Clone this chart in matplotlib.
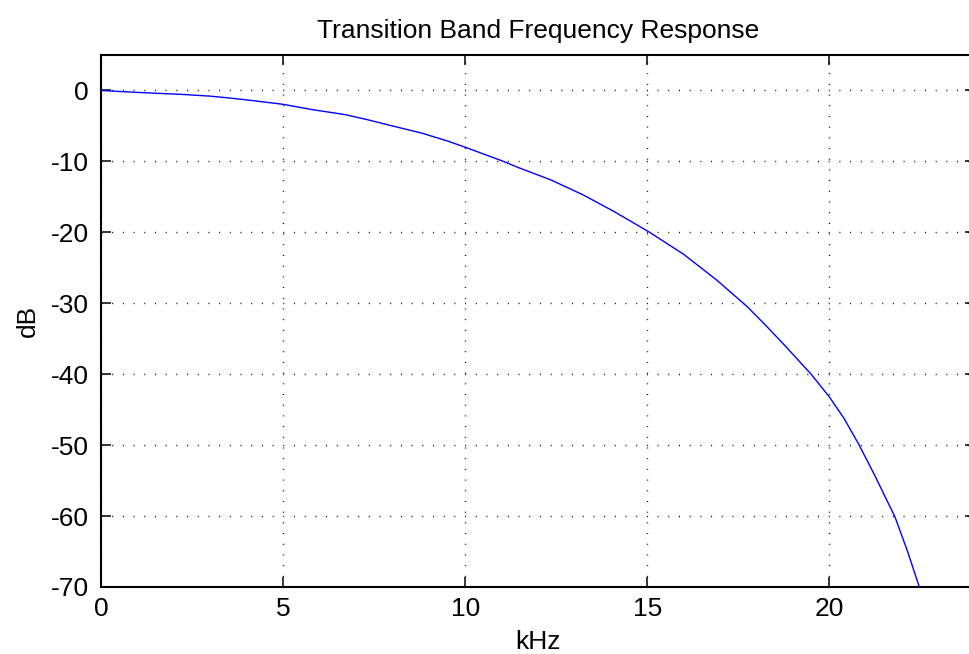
import numpy as np
import matplotlib
matplotlib.use("Agg")
import matplotlib.pyplot as plt

# values
freq_khz = [0, 0.9, 2.2, 3.0, 3.6, 4.2, 5.0, 5.8, 6.7, 7.3, 8.0, 8.8, 9.5, 10.0,
            11.0, 11.5, 12.35, 13.25, 14.1, 15.05, 16.0, 16.9, 17.75, 18.25, 18.75,
            19.5, 20.0, 20.4, 20.8, 21.25, 21.8, 22.15, 22.47]
mag_db = [0, -0.25, -0.55, -0.8, -1.1, -1.45, -1.95, -2.7, -3.4, -4.1, -5.0, -6.0,
          -7.1, -8.0, -9.9, -10.95, -12.6, -14.75, -17.1, -19.95, -23.1, -26.7,
          -30.5, -33.1, -35.8, -40.0, -43.2, -46.2, -49.8, -54.3, -60.1, -65.0, -70.0]
x_ticks = [0, 5, 10, 15, 20]
y_ticks = [0, -10, -20, -30, -40, -50, -60, -70]

plt.rcParams["font.family"] = ["Liberation Sans", "DejaVu Sans"]
plt.rcParams["axes.unicode_minus"] = False

W, H = 969, 654
fig = plt.figure(figsize=(W / 100, H / 100), dpi=100)
ax = fig.add_axes([101 / W, 1 - 587 / H, 874 / W, 532 / H])

ax.plot(freq_khz, mag_db, color=(0, 0, 1), linewidth=1.0, zorder=3)

ax.set_xlim(0, 24)
ax.set_ylim(-70, 5)
ax.set_xticks(x_ticks)
ax.set_yticks(y_ticks)
ax.tick_params(direction="in", length=7.2, width=1.1, top=True, right=True,
               colors="black", labelsize=19)
ax.tick_params(axis="x", pad=7.5)
ax.tick_params(axis="y", pad=8.6)
for s in ax.spines.values():
    s.set_linewidth(1.5)
ax.grid(True, color="black", linewidth=1.0, linestyle=(0, (0.7, 7)))

ax.set_title("Transition Band Frequency Response", pad=12, fontsize=19)
ax.set_xlabel("kHz", labelpad=6, fontsize=19)
ax.set_ylabel("dB", labelpad=8, fontsize=19)

fig.savefig("out.png", dpi=100)
